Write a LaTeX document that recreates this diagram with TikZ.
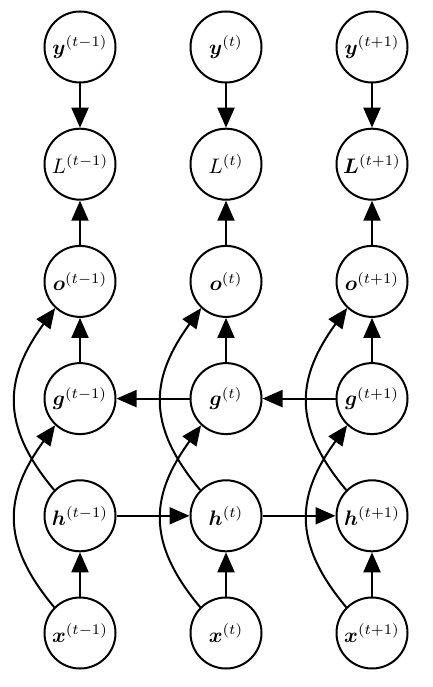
\documentclass[tikz,border=0pt]{standalone}
\usepackage{graphicx}
\usepackage{amsmath}
\usepackage{bm}
\usetikzlibrary{arrows.meta}
\newcommand{\lbl}[1]{\scalebox{2.1}{$#1$}}
\begin{document}
\begin{tikzpicture}[x=1pt,y=-1pt,
  unit/.style={circle,draw,line width=2pt,minimum size=71pt,inner sep=0pt},
  conn/.style={line width=2pt,-{Triangle[length=20pt,width=17pt]}},
  curv/.style={conn,out=130,in=234,looseness=1.2}]
\useasboundingbox (0,0) rectangle (433,687);
\foreach \c/\x/\s in {1/80/{t-1},2/226/{t},3/372/{t+1}}{
  \node[unit] (y\c) at (\x,47) {\lbl{\bm{y}^{(\s)}}};
  \node[unit] (o\c) at (\x,281.4) {\lbl{\bm{o}^{(\s)}}};
  \node[unit] (g\c) at (\x,398.6) {\lbl{\bm{g}^{(\s)}}};
  \node[unit] (h\c) at (\x,515.8) {\lbl{\bm{h}^{(\s)}}};
  \node[unit] (x\c) at (\x,633) {\lbl{\bm{x}^{(\s)}}};
}
\node[unit] (L1) at (80,164.2) {\lbl{L^{(t-1)}}};
\node[unit] (L2) at (226,164.2) {\lbl{L^{(t)}}};
\node[unit] (L3) at (372,164.2) {\lbl{\bm{L}^{(t+1)}}};
\foreach \c in {1,2,3}{
  \draw[conn] (y\c) -- (L\c);
  \draw[conn] (o\c) -- (L\c);
  \draw[conn] (g\c) -- (o\c);
  \draw[conn] (x\c) -- (h\c);
  \draw[curv] (x\c.135) to (g\c.227);
  \draw[curv] (h\c.135) to (o\c.227);
}
\draw[conn] (h1) -- (h2);
\draw[conn] (h2) -- (h3);
\draw[conn] (g2) -- (g1);
\draw[conn] (g3) -- (g2);
\end{tikzpicture}
\end{document}
